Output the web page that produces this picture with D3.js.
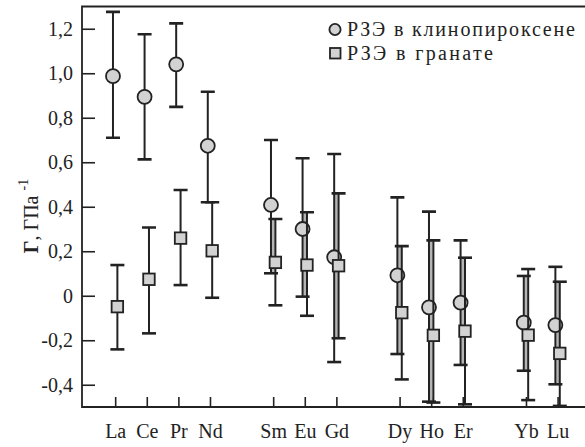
<!DOCTYPE html>
<html>
<head>
<meta charset="utf-8">
<script src="https://cdn.jsdelivr.net/npm/d3@7"></script>
<style>
  html, body { margin: 0; padding: 0; background: #fff; }
  svg { display: block; }
</style>
</head>
<body>
<svg id="chart" width="585" height="447" font-family="serif"></svg>
<script>
// ---- data ----
const elements = ["La","Ce","Pr","Nd","Sm","Eu","Gd","Dy","Ho","Er","Yb","Lu"];
const slots    = [0, 1, 2, 3, 5, 6, 7, 9, 10, 11, 13, 14];

const cpxValue = [0.987, 0.894, 1.040, 0.674, 0.408, 0.300, 0.173, 0.092, -0.052, -0.031, -0.121, -0.132];
const cpxLow   = [0.710, 0.613, 0.849, 0.420, 0.101, -0.004, -0.298, -0.262, -0.476, -0.311, -0.337, -0.398];
const cpxHigh  = [1.276, 1.175, 1.224, 0.917, 0.700, 0.618, 0.637, 0.442, 0.378, 0.249, 0.089, 0.130];

const grtValue = [-0.049, 0.074, 0.259, 0.202, 0.150, 0.138, 0.135, -0.076, -0.178, -0.159, -0.177, -0.259];
const grtLow   = [-0.241, -0.169, 0.048, -0.009, -0.043, -0.090, -0.191, -0.376, -0.480, -0.488, -0.469, -0.495];
const grtHigh  = [0.138, 0.307, 0.475, 0.420, 0.345, 0.375, 0.460, 0.223, 0.249, 0.171, 0.120, 0.063];

const yTicks = [-0.4, -0.2, 0, 0.2, 0.4, 0.6, 0.8, 1.0, 1.2];
const legendLabels = ["РЗЭ в клинопироксене", "РЗЭ в гранате"];

// ---- layout ----
const FONT = "serif";
const svg = d3.select("#chart");
const mLeft = 82, mTop = 6.5, mBottom = 407;
const x = d3.scaleLinear().domain([-1.05, 15]).range([mLeft, mLeft + 16.05 * 31.6]);
const y = d3.scaleLinear().domain([-0.5, 1.3]).range([mBottom, mTop]);

const dark = "#222";
const fillGray = "#d2d2d2";
const fmt = v => (v === 0 ? "0" : d3.format(".1f")(v).replace(".", ",").replace("−", "-"));

const defs = svg.append("defs");
defs.append("clipPath").attr("id", "plotClip")
  .append("rect").attr("x", mLeft).attr("y", mTop).attr("width", 600).attr("height", mBottom - mTop);

// axes
const yAxis = d3.axisLeft(y).tickValues(yTicks).tickFormat(fmt).tickSize(-13).tickPadding(9);
const gy = svg.append("g").attr("transform", `translate(${mLeft},0)`).call(yAxis);
gy.select(".domain").remove();
gy.attr("font-family", FONT).attr("font-size", 20);
gy.selectAll(".tick line").attr("stroke", dark).attr("stroke-width", 1.6);
gy.selectAll(".tick text").attr("font-family", FONT).attr("font-size", 20).attr("fill", dark);

const xAxis = d3.axisBottom(x).tickValues(slots)
  .tickFormat((d, i) => elements[i]).tickSize(-10).tickPadding(17);
const gx = svg.append("g").attr("transform", `translate(0,${mBottom})`).call(xAxis);
gx.select(".domain").remove();
gx.attr("font-family", FONT).attr("font-size", 20);
gx.selectAll(".tick line").attr("stroke", dark).attr("stroke-width", 1.6);
gx.selectAll(".tick text").attr("font-family", FONT).attr("font-size", 20).attr("fill", dark);

// frame (left, top, bottom; right side runs off the canvas)
svg.append("path")
  .attr("d", `M600,${mTop}H${mLeft}V${mBottom}H600`)
  .attr("fill", "none").attr("stroke", dark).attr("stroke-width", 1.8);

// data rows
const rows = elements.map((e, i) => ({
  e, s: slots[i],
  cv: cpxValue[i], cl: cpxLow[i], ch: cpxHigh[i],
  gv: grtValue[i], gl: grtLow[i], gh: grtHigh[i]
}));

const plot = svg.append("g").attr("clip-path", "url(#plotClip)");
const off = 2.2, capW = 14;

// gray fill where both error bars overlap
plot.selectAll("line.overlap").data(rows.filter(d => Math.min(d.ch, d.gh) > Math.max(d.cl, d.gl)))
  .join("line").attr("class", "overlap")
  .attr("x1", d => x(d.s)).attr("x2", d => x(d.s))
  .attr("y1", d => y(Math.min(d.ch, d.gh))).attr("y2", d => y(Math.max(d.cl, d.gl)))
  .attr("stroke", "#b4b4b4").attr("stroke-width", 3);

function errorBars(cls, dx, lo, hi) {
  const g = plot.append("g").attr("class", cls);
  g.selectAll("line.v").data(rows).join("line").attr("class", "v")
    .attr("x1", d => x(d.s) + dx).attr("x2", d => x(d.s) + dx)
    .attr("y1", d => y(hi(d))).attr("y2", d => y(lo(d)))
    .attr("stroke", dark).attr("stroke-width", 2);
  [lo, hi].forEach((acc, k) => {
    g.selectAll("line.c" + k).data(rows).join("line").attr("class", "c" + k)
      .attr("x1", d => x(d.s) + dx - capW / 2).attr("x2", d => x(d.s) + dx + capW / 2)
      .attr("y1", d => y(acc(d))).attr("y2", d => y(acc(d)))
      .attr("stroke", dark).attr("stroke-width", 2.6);
  });
}

// clinopyroxene bars + circles
errorBars("cpxErr", -off, d => d.cl, d => d.ch);
plot.selectAll("circle.cpx").data(rows).join("circle").attr("class", "cpx")
  .attr("cx", d => x(d.s) - off).attr("cy", d => y(d.cv)).attr("r", 7)
  .attr("fill", fillGray).attr("stroke", dark).attr("stroke-width", 1.8);

// garnet bars + squares
errorBars("grtErr", off, d => d.gl, d => d.gh);
const sq = 11.5;
plot.selectAll("rect.grt").data(rows).join("rect").attr("class", "grt")
  .attr("x", d => x(d.s) + off - sq / 2).attr("y", d => y(d.gv) - sq / 2)
  .attr("width", sq).attr("height", sq)
  .attr("fill", fillGray).attr("stroke", dark).attr("stroke-width", 1.8);

// legend
const lg = svg.append("g");
lg.append("circle").attr("cx", 335).attr("cy", 29.5).attr("r", 5.6)
  .attr("fill", fillGray).attr("stroke", dark).attr("stroke-width", 1.8);
lg.append("rect").attr("x", 330).attr("y", 48).attr("width", 10.5).attr("height", 10.5)
  .attr("fill", fillGray).attr("stroke", dark).attr("stroke-width", 1.8);
const legendWidths = [228, 146];
legendLabels.forEach((t, i) => {
  lg.append("text").attr("x", 347).attr("y", 36 + i * 23.5)
    .attr("font-family", FONT).attr("font-size", 20).attr("fill", dark)
    .attr("textLength", legendWidths[i]).attr("lengthAdjust", "spacing")
    .text(t);
});

// y title
const yt = svg.append("text")
  .attr("transform", "translate(38,216) rotate(-90)")
  .attr("text-anchor", "middle").attr("fill", dark)
  .attr("font-family", FONT).attr("font-size", 20);
yt.append("tspan").attr("font-weight", "bold").text("Γ");
yt.append("tspan").text(", ГПа");
yt.append("tspan").attr("font-size", 14).attr("dx", 5).attr("dy", -10).text("-1");
</script>
</body>
</html>
